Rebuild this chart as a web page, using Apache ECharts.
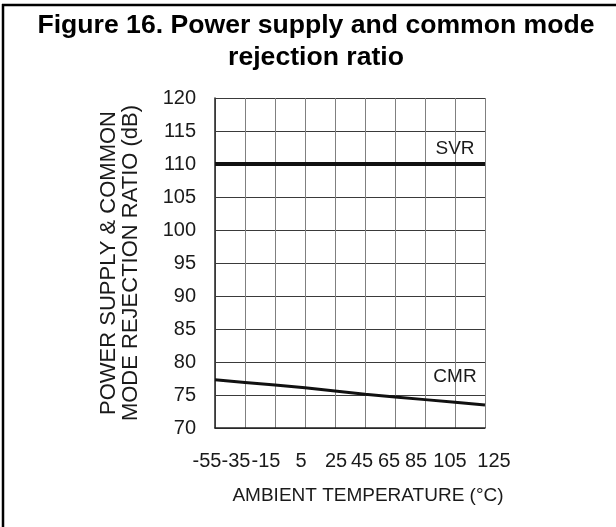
<!DOCTYPE html>
<html>
<head>
<meta charset="utf-8">
<script src="https://cdn.jsdelivr.net/npm/echarts@6/dist/echarts.min.js"></script>
<style>
  html, body { margin: 0; padding: 0; background: #fff; }
  #chart { width: 616px; height: 527px; }
</style>
</head>
<body>
<div id="chart"></div>
<script>
// temperatures (°C) at the grid lines
const temps = [-55, -35, -15, 5, 25, 45, 65, 85, 105, 125];
// rejection ratios (dB)
const svr = [110, 110, 110, 110, 110, 110, 110, 110, 110, 110];
const cmr = [77.3, 76.9, 76.5, 76.1, 75.6, 75.1, 74.7, 74.3, 73.9, 73.5];
const xTicks = ["-55", "-35", "-15", "5", "25", "45", "65", "85", "105", "125"];

const font = "Arial, 'Liberation Sans', sans-serif";
// labels in the figure sit a little off their grid lines
const shift = [-8, -9, -9, -4, 1, -3, -6, -9, -5, 9];

const rich = {};
xTicks.forEach((t, i) => {
  const s = shift[i];
  rich["t" + i] = {
    fontSize: 20,
    fontFamily: font,
    color: "#1a1a1a",
    padding: s < 0 ? [0, -2 * s, 0, 0] : [0, 0, 0, 2 * s],
  };
});

function pairs(values, labelIdx, labelText, dist) {
  return temps.map((t, i) => {
    if (i !== labelIdx) return [t, values[i]];
    return {
      value: [t, values[i]],
      label: {
        show: true,
        position: "top",
        distance: dist,
        formatter: labelText,
        fontSize: 19,
        fontFamily: font,
        color: "#1a1a1a",
      },
    };
  });
}

const myChart = echarts.init(document.getElementById("chart"));
const option = {
  backgroundColor: "#fff",
  animation: false,
  title: {
    text: "Figure 16. Power supply and common mode\nrejection ratio",
    left: 311,
    textAlign: "center",
    top: 5,
    textStyle: {
      fontSize: 26.6,
      fontWeight: "bold",
      fontFamily: font,
      color: "#000",
      lineHeight: 32,
    },
  },
  graphic: [
    { type: "line", shape: { x1: 2, y1: 5, x2: 616, y2: 5 }, style: { stroke: "#000", lineWidth: 2.5 } },
    { type: "line", shape: { x1: 3, y1: 4, x2: 3, y2: 527 }, style: { stroke: "#000", lineWidth: 2.5 } },
  ],
  grid: { left: 215, right: 131, top: 98, bottom: 99 },
  xAxis: {
    type: "value",
    min: -55,
    max: 125,
    interval: 20,
    name: "AMBIENT TEMPERATURE (°C)",
    nameLocation: "middle",
    nameGap: 58,
    nameTextStyle: { fontSize: 19, fontFamily: font, color: "#1a1a1a", padding: [0, 0, 0, 36] },
    axisLine: { show: true, onZero: false, lineStyle: { color: "#222", width: 1.5 } },
    axisTick: { show: false },
    axisLabel: {
      margin: 23,
      formatter: function (v) {
        const i = temps.indexOf(v);
        return "{t" + i + "|" + xTicks[i] + "}";
      },
      rich: rich,
    },
    splitLine: { show: true, lineStyle: { color: "#808080", width: 1 } },
  },
  yAxis: {
    type: "value",
    min: 70,
    max: 120,
    interval: 5,
    name: "POWER SUPPLY & COMMON\nMODE REJECTION RATIO (dB)",
    nameLocation: "middle",
    nameRotate: 90,
    nameGap: 73,
    nameTextStyle: { fontSize: 22, fontFamily: font, color: "#1a1a1a", lineHeight: 22 },
    axisLine: { show: true, onZero: false, lineStyle: { color: "#222", width: 1.5 } },
    axisTick: { show: false },
    axisLabel: { margin: 19, fontSize: 20, fontFamily: font, color: "#1a1a1a" },
    splitLine: { show: true, lineStyle: { color: "#3a3a3a", width: 1 } },
  },
  series: [
    {
      name: "SVR",
      type: "line",
      symbol: "circle",
      symbolSize: 0,
      showSymbol: true,
      lineStyle: { color: "#111", width: 4 },
      itemStyle: { color: "#111" },
      data: pairs(svr, 8, "SVR", 6),
      z: 3,
    },
    {
      name: "CMR",
      type: "line",
      symbol: "circle",
      symbolSize: 0,
      showSymbol: true,
      lineStyle: { color: "#111", width: 3 },
      itemStyle: { color: "#111" },
      data: pairs(cmr, 8, "CMR", 16),
      z: 3,
    },
  ],
};
myChart.setOption(option);
</script>
</body>
</html>
